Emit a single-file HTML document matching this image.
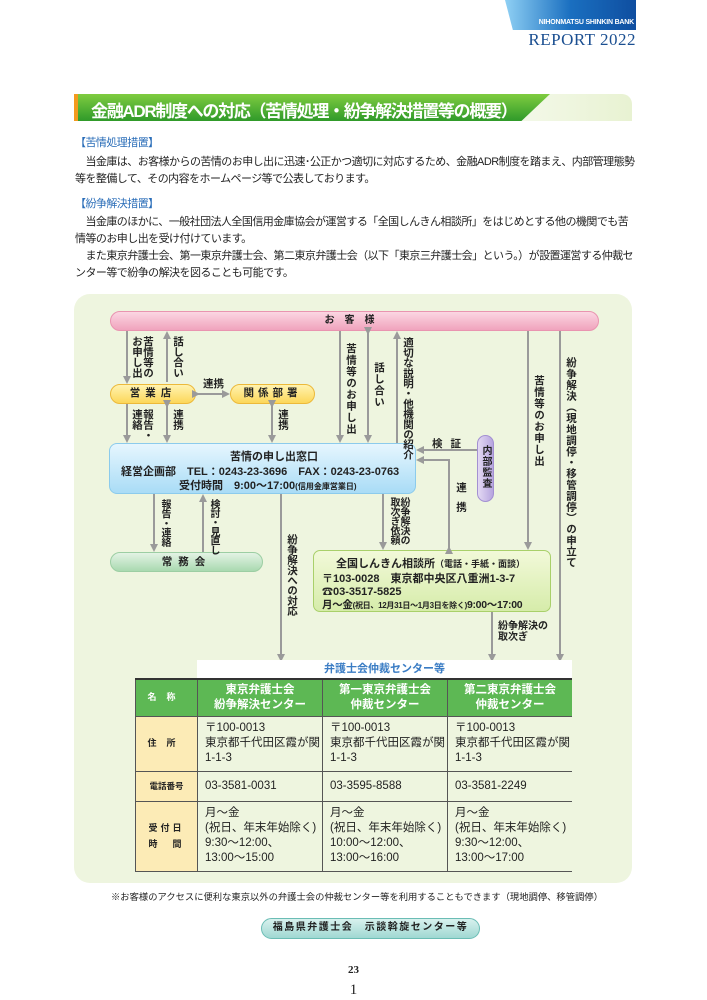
<!DOCTYPE html>
<html><head><meta charset="utf-8"><style>
*{margin:0;padding:0;box-sizing:border-box}
body{width:707px;height:1000px;background:#fff;position:relative;overflow:hidden;font-family:"Liberation Sans","Noto Sans CJK JP",sans-serif;color:#222}
.a{position:absolute}
.v{position:absolute;writing-mode:vertical-rl;font-size:10.5px;font-weight:bold;line-height:11px;letter-spacing:1px;color:#222}
.p{font-size:11px;line-height:17px;position:absolute;left:75px;width:562px;color:#222;letter-spacing:-.55px}
.lbl{position:absolute;font-size:10.5px;font-weight:bold}
table{border-collapse:collapse}
td{border:1px solid #555;font-size:11.5px;line-height:15px;vertical-align:middle}
</style></head><body>
<!-- header -->
<div class="a" style="left:505px;top:0;width:131px;height:30px;background:linear-gradient(90deg,#8fd0f4,#1a6fc0 50%,#0f4ea0);clip-path:polygon(0 0,100% 0,100% 100%,6% 100%)"></div>
<div class="a" style="left:520px;top:19px;width:114px;text-align:right;color:#fff;font-size:7px;font-weight:bold;letter-spacing:-.2px">NIHONMATSU SHINKIN BANK</div>
<div class="a" style="left:515px;top:30px;width:121px;text-align:right;font-family:'Liberation Serif',serif;color:#1b4f91;font-size:17px;letter-spacing:.5px">REPORT 2022</div>
<!-- title -->
<div class="a" style="left:74px;top:94px;width:558px;height:27px;background:linear-gradient(90deg,#fff 60%,#e8f2d2);border-radius:0 10px 0 0"></div>
<div class="a" style="left:74px;top:94px;width:476px;height:27px;background:linear-gradient(180deg,#7fcc40,#2f9a2a);clip-path:polygon(0 0,100% 0,94% 100%,0 100%)"></div>
<div class="a" style="left:74px;top:94px;width:4px;height:27px;background:#f39a1e"></div>
<div class="a" style="left:91px;top:97px;color:#fff;font-size:17px;font-weight:bold;letter-spacing:-1.3px;white-space:nowrap">金融ADR制度への対応（苦情処理・紛争解決措置等の概要）</div>
<!-- text -->
<div class="p" style="top:135px;color:#2a6db8">【苦情処理措置】</div>
<div class="p" style="top:154px">　当金庫は、お客様からの苦情のお申し出に迅速･公正かつ適切に対応するため、金融ADR制度を踏まえ、内部管理態勢等を整備して、その内容をホームページ等で公表しております。</div>
<div class="p" style="top:196px;color:#2a6db8">【紛争解決措置】</div>
<div class="p" style="top:214px">　当金庫のほかに、一般社団法人全国信用金庫協会が運営する「全国しんきん相談所」をはじめとする他の機関でも苦情等のお申し出を受け付けています。<br>　また東京弁護士会、第一東京弁護士会、第二東京弁護士会（以下「東京三弁護士会」という。）が設置運営する仲裁センター等で紛争の解決を図ることも可能です。</div>
<!-- panel -->
<div class="a" style="left:74px;top:294px;width:558px;height:589px;background:#eef5df;border-radius:16px"></div>
<!-- nodes -->
<div class="a" style="left:110px;top:311px;width:489px;height:20px;border-radius:10px;background:linear-gradient(#fbd6e2,#f0a3bd);border:1px solid #e994b0;text-align:center;font-size:10px;font-weight:bold;line-height:18px;letter-spacing:10px">お客様</div>
<div class="a" style="left:110px;top:384px;width:86px;height:20px;border-radius:10px;background:linear-gradient(#fff3b0,#fcd75a);border:1.5px solid #ecb93a;text-align:center;font-size:10.5px;font-weight:bold;line-height:17px;letter-spacing:5px">営業店</div>
<div class="a" style="left:230px;top:384px;width:85px;height:20px;border-radius:10px;background:linear-gradient(#fff3b0,#fcd75a);border:1.5px solid #ecb93a;text-align:center;font-size:10.5px;font-weight:bold;line-height:17px;letter-spacing:4px">関係部署</div>
<div class="a" style="left:109px;top:443px;width:307px;height:51px;border-radius:8px;background:linear-gradient(#e6f6fe,#a9dcf6);border:1px solid #8ccbec"></div>
<div class="lbl" style="left:230px;top:448px;font-size:11px">苦情の申し出窓口</div>
<div class="lbl" style="left:121px;top:463px;font-size:11px;white-space:nowrap">経営企画部　TEL：0243-23-3696　FAX：0243-23-0763</div>
<div class="lbl" style="left:179px;top:477px;font-size:11px;white-space:nowrap">受付時間　9:00～17:00<span style="font-size:8px">(信用金庫営業日)</span></div>
<div class="a" style="left:477px;top:435px;width:17px;height:67px;border-radius:9px;background:linear-gradient(90deg,#e3d9f3,#b7a5df);border:1px solid #a390d2"></div>
<div class="v" style="left:480px;top:445px;font-size:10px">内部監査</div>
<div class="a" style="left:110px;top:552px;width:153px;height:20px;border-radius:10px;background:linear-gradient(#e3f3e4,#a9d9b0);border:1px solid #9ccea3;text-align:center;font-size:10.5px;font-weight:bold;line-height:18px;letter-spacing:6px">常務会</div>
<div class="a" style="left:313px;top:550px;width:238px;height:62px;border-radius:7px;background:linear-gradient(#f2f9d9,#d6ecaa);border:1.5px solid #a9d06a"></div>
<div class="lbl" style="left:336px;top:555px;font-size:11px;white-space:nowrap">全国しんきん相談所<span style="font-size:9px">（電話・手紙・面談）</span></div>
<div class="lbl" style="left:322px;top:570px;font-size:11px;white-space:nowrap">〒103-0028　東京都中央区八重洲1-3-7</div>
<div class="lbl" style="left:322px;top:583px;font-size:11px;white-space:nowrap">☎03-3517-5825</div>
<div class="lbl" style="left:322px;top:597px;font-size:10.5px;white-space:nowrap;letter-spacing:-.3px">月～金<span style="font-size:8px">(祝日、12月31日～1月3日を除く)</span>9:00～17:00</div>
<!-- arrows -->
<svg class="a" style="left:0;top:0" width="707" height="1000">
<defs><marker id="m" markerWidth="8" markerHeight="8" refX="6" refY="4" orient="auto" markerUnits="userSpaceOnUse"><path d="M0,0L8,4L0,8z" fill="#9a9a9a"/></marker></defs>
<g stroke="#9a9a9a" stroke-width="2" fill="none">
<line x1="127" y1="331" x2="127" y2="382" marker-end="url(#m)"/>
<line x1="167" y1="382" x2="167" y2="333" marker-end="url(#m)"/>
<line x1="198" y1="394" x2="228" y2="394" marker-end="url(#m)" marker-start="url(#m)"/>
<line x1="127" y1="404" x2="127" y2="441" marker-end="url(#m)"/>
<line x1="167" y1="406" x2="167" y2="441" marker-end="url(#m)" marker-start="url(#m)"/>
<line x1="272" y1="406" x2="272" y2="441" marker-end="url(#m)" marker-start="url(#m)"/>
<line x1="340" y1="331" x2="340" y2="441" marker-end="url(#m)"/>
<line x1="368" y1="333" x2="368" y2="441" marker-end="url(#m)" marker-start="url(#m)"/>
<line x1="397" y1="443" x2="397" y2="333" marker-end="url(#m)"/>
<line x1="477" y1="450" x2="418" y2="450" marker-end="url(#m)"/>
<polyline points="449,548 449,460 418,460" marker-end="url(#m)" marker-start="url(#m)"/>
<line x1="528" y1="331" x2="528" y2="548" marker-end="url(#m)"/>
<line x1="560" y1="331" x2="560" y2="660" marker-end="url(#m)"/>
<line x1="154" y1="494" x2="154" y2="550" marker-end="url(#m)"/>
<line x1="203" y1="552" x2="203" y2="496" marker-end="url(#m)"/>
<line x1="281" y1="494" x2="281" y2="660" marker-end="url(#m)"/>
<line x1="383" y1="494" x2="383" y2="548" marker-end="url(#m)"/>
<line x1="492" y1="612" x2="492" y2="660" marker-end="url(#m)"/>
</g></svg>
<!-- labels -->
<div class="v" style="left:131px;top:336px;height:50px;letter-spacing:0">苦情等の<br>お申し出</div>
<div class="v" style="left:172px;top:336px;letter-spacing:0">話し合い</div>
<div class="lbl" style="left:203px;top:376px">連携</div>
<div class="v" style="left:131px;top:409px;letter-spacing:0">報告・<br>連絡</div>
<div class="v" style="left:172px;top:409px;letter-spacing:0">連携</div>
<div class="v" style="left:277px;top:409px;letter-spacing:0">連携</div>
<div class="v" style="left:345px;top:343px">苦情等のお申し出</div>
<div class="v" style="left:373px;top:362px">話し合い</div>
<div class="v" style="left:402px;top:337px;letter-spacing:-.3px">適切な説明・他機関の紹介</div>
<div class="lbl" style="left:432px;top:436px;letter-spacing:8px">検証</div>
<div class="v" style="left:455px;top:482px;letter-spacing:9px">連携</div>
<div class="v" style="left:533px;top:375px">苦情等のお申し出</div>
<div class="v" style="left:565px;top:357px;letter-spacing:.6px">紛争解決（現地調停・移管調停）の申立て</div>
<div class="v" style="left:159px;top:499px;letter-spacing:-.5px;font-size:10px">報告・連絡</div>
<div class="v" style="left:208px;top:499px;letter-spacing:-.8px;font-size:10px">検討・見直し</div>
<div class="v" style="left:286px;top:534px;letter-spacing:-.3px">紛争解決への対応</div>
<div class="v" style="left:388px;top:497px;letter-spacing:-.5px;font-size:10px;line-height:10px">紛争解決の<br>取次ぎ依頼</div>
<div class="lbl" style="left:498px;top:621px;line-height:11px;font-size:10px">紛争解決の<br>取次ぎ</div>
<!-- table -->
<div class="a" style="left:197px;top:660px;width:375px;height:18px;background:#fff;text-align:center;color:#3a7cc4;font-size:11px;font-weight:bold;line-height:18px">弁護士会仲裁センター等</div>
<table class="a" style="left:135px;top:678px;width:437px">
<tr style="height:37px;background:#5db854;color:#fff;font-weight:bold;text-align:center"><td style="width:62px;font-size:9px;letter-spacing:10px;border-top:2px solid #333">名称</td><td style="width:125px;border-top:2px solid #333">東京弁護士会<br>紛争解決センター</td><td style="width:125px;border-top:2px solid #333">第一東京弁護士会<br>仲裁センター</td><td style="border-top:2px solid #333;border-right:none">第二東京弁護士会<br>仲裁センター</td></tr>
<tr style="height:55px"><td style="background:#fcebb6;text-align:center;font-size:9px;font-weight:bold;letter-spacing:10px">住所</td><td style="padding-left:7px">〒100-0013<br>東京都千代田区霞が関<br>1-1-3</td><td style="padding-left:7px">〒100-0013<br>東京都千代田区霞が関<br>1-1-3</td><td style="padding-left:7px;border-right:none">〒100-0013<br>東京都千代田区霞が関<br>1-1-3</td></tr>
<tr style="height:30px"><td style="background:#fcebb6;text-align:center;font-size:8.5px;font-weight:bold">電話番号</td><td style="padding-left:7px">03-3581-0031</td><td style="padding-left:7px">03-3595-8588</td><td style="padding-left:7px;border-right:none">03-3581-2249</td></tr>
<tr style="height:70px"><td style="background:#fcebb6;text-align:center;font-size:9px;font-weight:bold;line-height:16px;letter-spacing:3px">受付日<br>時　間</td><td style="padding-left:7px">月～金<br>(祝日、年末年始除く)<br>9:30～12:00、<br>13:00～15:00</td><td style="padding-left:7px">月～金<br>(祝日、年末年始除く)<br>10:00～12:00、<br>13:00～16:00</td><td style="padding-left:7px;border-right:none">月～金<br>(祝日、年末年始除く)<br>9:30～12:00、<br>13:00～17:00</td></tr>
</table>
<div class="a" style="left:111px;top:889px;font-size:9.3px;white-space:nowrap">※お客様のアクセスに便利な東京以外の弁護士会の仲裁センター等を利用することもできます（現地調停、移管調停）</div>
<div class="a" style="left:261px;top:918px;width:219px;height:21px;border-radius:11px;background:linear-gradient(#d8f1ee,#9fd8d2);border:1.5px solid #6bbdb5;text-align:center;font-size:10px;font-weight:bold;line-height:18px;letter-spacing:1.5px">福島県弁護士会　示談斡旋センター等</div>
<div class="a" style="left:0;top:964px;width:707px;text-align:center;font-family:'Liberation Serif',serif;font-size:11px;font-weight:bold">23</div>
<div class="a" style="left:0;top:982px;width:707px;text-align:center;font-family:'Liberation Serif',serif;font-size:15px">1</div>
</body></html>
